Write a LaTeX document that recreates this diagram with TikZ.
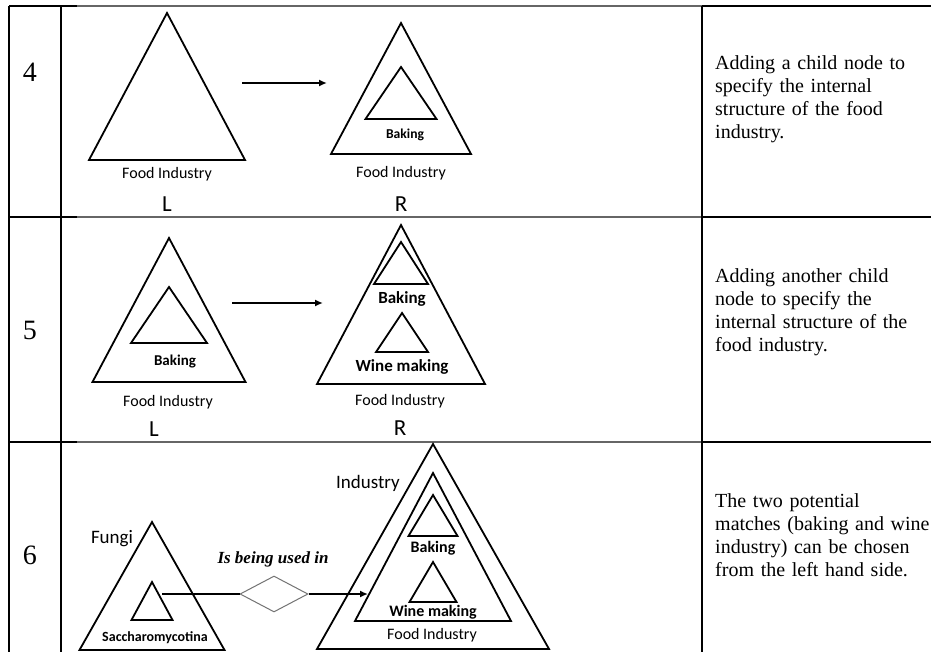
\documentclass[tikz,border=0pt]{standalone}
\usepackage{fontspec}
\setmainfont{Liberation Serif}
\newfontfamily\labelfont{Carlito}
\usetikzlibrary{arrows.meta,shapes.geometric}

% triangle: name, apex x, apex y, half base width, base y
\newcommand\drawtri[5]{%
  \coordinate (#1-t) at (#2,#3);
  \coordinate (#1-l) at ({#2-#4},#5);
  \coordinate (#1-r) at ({#2+#4},#5);
  \draw[tri] (#1-t) -- (#1-r) -- (#1-l) -- cycle;}

\begin{document}
\begin{tikzpicture}[x=1pt,y=-1pt,
  rule/.style={line width=2.5pt},
  softrule/.style={line width=2pt, black!60},
  tri/.style={line width=1.8pt, line join=miter},
  link/.style={line width=1.8pt, -{Latex[length=8pt,width=7pt]}},
  plain/.style={line width=1.8pt},
  rownum/.style={font=\fontsize{28}{30}\selectfont, inner sep=0},
  desc/.style={font=\fontsize{20}{23}\selectfont, text width=216pt, align=left, inner sep=0, anchor=base west},
  lab/.style={font=\labelfont\fontsize{16}{18}\selectfont, inner sep=0, anchor=base},
  side/.style={font=\labelfont\fontsize{23}{25}\selectfont, inner sep=0, anchor=base},
  big/.style={font=\labelfont\fontsize{19}{21}\selectfont, inner sep=0, anchor=base},
  child/.style={font=\labelfont\bfseries\fontsize{#1}{#1}\selectfont, inner sep=0, anchor=base},
  relation/.style={diamond, draw=black!55, line width=1pt, minimum width=68pt, minimum height=36pt, inner sep=0}
]
\useasboundingbox (0,0) rectangle (931,652);
\fill[white] (0,0) rectangle (931,652);

% ---- table rules ----
\foreach \y in {6,217,442} {
  \draw[rule] (9,\y) -- (77,\y);
  \draw[softrule] (77,\y) -- (702,\y);
  \draw[rule] (702,\y) -- (931,\y);
}
\draw[rule] (9,6) -- (9,652);
\draw[rule] (61,6) -- (61,652);
\draw[rule] (702,6) -- (702,652);

% ---- row numbers ----
\node[rownum] (n4) at (30,72) {4};
\node[rownum] (n5) at (30,330) {5};
\node[rownum] (n6) at (30,555) {6};

% ---- descriptions ----
\node[desc] (d4) at (715,70) {Adding a child node to\\specify the internal\\structure of the food\\industry.};
\node[desc] (d5) at (715,282) {Adding another child\\node to specify the\\internal structure of the\\food industry.};
\node[desc] (d6) at (715,507) {The two potential\\matches (baking and wine\\industry) can be chosen\\from the left hand side.};

% ---- row 4 ----
\drawtri{fl4}{167}{13}{78}{160}
\node[lab] (fl4lab) at (167,179) {Food Industry};
\node[side] (l4) at (167,212) {L};

\drawtri{fr4}{401}{23}{70}{154}
\drawtri{br4}{401}{67}{35.5}{119}
\node[child=13.6] (br4lab) at (405,139) {Baking};
\node[lab] (fr4lab) at (401,178) {Food Industry};
\node[side] (r4) at (401,212) {R};

\coordinate (a4s) at (242,83);
\coordinate (a4e) at (327,83);
\draw[link] (a4s) -- (a4e);

% ---- row 5 ----
\drawtri{fl5}{169}{238}{76.5}{382}
\drawtri{bl5}{169}{287}{38}{343}
\node[child=15] (bl5lab) at (175,365) {Baking};
\node[lab] (fl5lab) at (168,406) {Food Industry};
\node[side] (l5) at (154,436) {L};

\drawtri{fr5}{401}{225}{84}{384}
\drawtri{br5}{401}{242}{27}{284}
\node[child=17] (br5lab) at (402,303) {Baking};
\drawtri{wr5}{402}{313}{26}{352}
\node[child=17] (wr5lab) at (402,371) {Wine making};
\node[lab] (fr5lab) at (400,405) {Food Industry};
\node[side] (r5) at (400,435) {R};

\coordinate (a5s) at (232,303);
\coordinate (a5e) at (323,303);
\draw[link] (a5s) -- (a5e);

% ---- row 6 ----
\drawtri{fungi}{152}{522}{72.5}{650}
\drawtri{sacc}{152}{582}{20.5}{620}
\node[child=14] (sacclab) at (155,641) {Saccharomycotina};
\node[big] (fungilab) at (112,543) {Fungi};

\drawtri{ind}{433}{444}{116}{649}
\drawtri{food}{433}{473}{78}{621}
\drawtri{bake}{433}{495}{24.5}{536}
\node[child=16] (bakelab) at (433,552) {Baking};
\drawtri{wine}{433}{562}{23.5}{602}
\node[child=16] (winelab) at (433,616) {Wine making};
\node[lab] (foodlab) at (432,639) {Food Industry};
\node[big] (indlab) at (368,488) {Industry};

\coordinate (a6s) at (162,594);
\node[relation] (rel) at (274,594) {};
\coordinate (a6e) at (368,594);
\draw[plain] (a6s) -- (rel.west);
\draw[link] (rel.east) -- (a6e);
\node[font=\bfseries\itshape\fontsize{17}{19}\selectfont, inner sep=0, anchor=base] (rellab) at (273,563) {Is being used in};

\end{tikzpicture}
\end{document}
